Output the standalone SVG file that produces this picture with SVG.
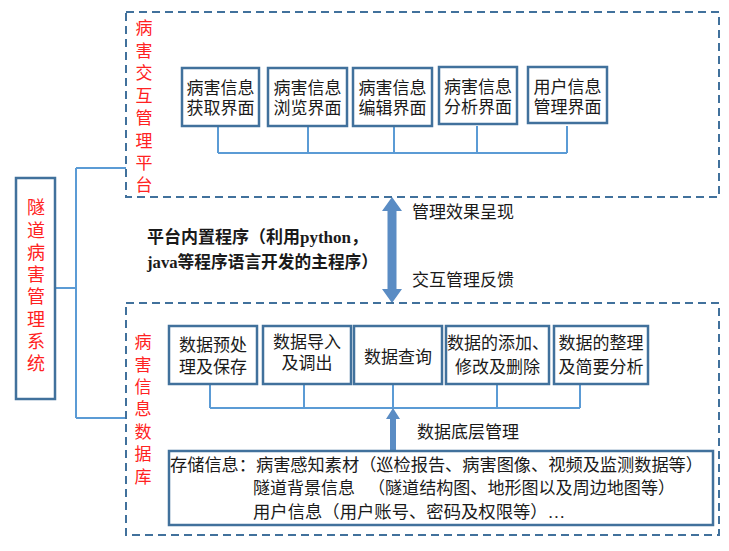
<svg xmlns="http://www.w3.org/2000/svg" width="729" height="551" viewBox="0 0 729 551">
<style>
.dash{fill:none;stroke:#41719c;stroke-width:2;stroke-dasharray:8 5}
.box{fill:#fff;stroke:#41719c;stroke-width:2.5}
.con{fill:none;stroke:#5b9bd5;stroke-width:2}
.arr{fill:#5a8cc4}
.t{font-family:"Liberation Serif","Noto Sans CJK SC",serif;font-size:17px;fill:#1a1a1a}
.c{text-anchor:middle}
.red{font-family:"Liberation Serif","Noto Sans CJK SC",serif;font-size:17px;fill:#f22;text-anchor:middle}
.b{font-weight:bold;font-size:17px}
</style>
<rect width="729" height="551" fill="#fff"/>
<g id="connectors">
<path class="con" d="M218 126V153M308 126V153M394 126V153M477 126V153M567 126V153M218 153H567"/>
<path class="con" d="M210 384V408M304 384V408M393 384V408M497 384V408M580 384V408M210 408H580"/>
<path class="con" d="M55 288H76M76 168V418M76 168H126M76 418H126"/>
<polygon class="arr" points="392,197 402,211 396.5,211 396.5,289 402,289 392,303 382,289 387.5,289 387.5,211 382,211"/>
<polygon class="arr" points="393,408 400,419 396,419 396,451 390,451 390,419 386,419"/>
</g>
<g id="platform">
<rect class="dash" x="126" y="12" width="593" height="185"/>
<text class="red"><tspan x="144" y="34">病</tspan><tspan x="144" y="57">害</tspan><tspan x="144" y="79">交</tspan><tspan x="144" y="102">互</tspan><tspan x="144" y="124">管</tspan><tspan x="144" y="147">理</tspan><tspan x="144" y="169">平</tspan><tspan x="144" y="191">台</tspan></text>
</g>
<g id="database">
<rect class="dash" x="126" y="303" width="593" height="232"/>
<text class="red"><tspan x="143" y="348">病</tspan><tspan x="143" y="371">害</tspan><tspan x="143" y="393">信</tspan><tspan x="143" y="415">息</tspan><tspan x="143" y="438">数</tspan><tspan x="143" y="460">据</tspan><tspan x="143" y="483">库</tspan></text>
</g>
<g id="system">
<rect class="box" x="16" y="178" width="39" height="221"/>
<text class="red" style="font-size:18px"><tspan x="36" y="214">隧</tspan><tspan x="36" y="237">道</tspan><tspan x="36" y="259">病</tspan><tspan x="36" y="281">害</tspan><tspan x="36" y="303">管</tspan><tspan x="36" y="326">理</tspan><tspan x="36" y="348">系</tspan><tspan x="36" y="370">统</tspan></text>
</g>
<g id="ui1"><rect class="box" x="182" y="68" width="77" height="58"/><text class="t c"><tspan x="220.5" y="94">病害信息</tspan><tspan x="220.5" y="114">获取界面</tspan></text></g>
<g id="ui2"><rect class="box" x="268" y="68" width="79" height="58"/><text class="t c"><tspan x="307.5" y="94">病害信息</tspan><tspan x="307.5" y="114">浏览界面</tspan></text></g>
<g id="ui3"><rect class="box" x="353" y="68" width="79" height="58"/><text class="t c"><tspan x="392.5" y="94">病害信息</tspan><tspan x="392.5" y="114">编辑界面</tspan></text></g>
<g id="ui4"><rect class="box" x="439" y="67" width="78" height="57"/><text class="t c"><tspan x="478" y="93">病害信息</tspan><tspan x="478" y="113">分析界面</tspan></text></g>
<g id="ui5"><rect class="box" x="528" y="67" width="79" height="56"/><text class="t c"><tspan x="567.5" y="93">用户信息</tspan><tspan x="567.5" y="113">管理界面</tspan></text></g>
<g id="label-top"><text class="t" x="412" y="218">管理效果呈现</text></g>
<g id="label-feedback"><text class="t" x="412" y="286">交互管理反馈</text></g>
<g id="program">
<text class="t b" x="147" y="243" textLength="221" lengthAdjust="spacingAndGlyphs">平台内置程序（利用python，</text>
<text class="t b" x="147" y="268" textLength="231" lengthAdjust="spacingAndGlyphs">java等程序语言开发的主程序）</text>
</g>
<g id="db1"><rect class="box" x="169" y="326" width="88" height="58"/><text class="t c"><tspan x="213" y="351">数据预处</tspan><tspan x="213" y="373">理及保存</tspan></text></g>
<g id="db2"><rect class="box" x="263" y="326" width="88" height="58"/><text class="t c"><tspan x="307" y="348">数据导入</tspan><tspan x="307" y="369">及调出</tspan></text></g>
<g id="db3"><rect class="box" x="354" y="326" width="88" height="58"/><text class="t c" x="398" y="363">数据查询</text></g>
<g id="db4"><rect class="box" x="446" y="326" width="103" height="58"/><text class="t c"><tspan x="498" y="349">数据的添加、</tspan><tspan x="497.5" y="373">修改及删除</tspan></text></g>
<g id="db5"><rect class="box" x="554" y="326" width="94" height="58"/><text class="t c"><tspan x="601" y="349">数据的整理</tspan><tspan x="601" y="373">及简要分析</tspan></text></g>
<g id="label-bottom"><text class="t" x="417" y="438">数据底层管理</text></g>
<g id="storage">
<rect class="box" x="169" y="451" width="544" height="74"/>
<text class="t" x="170" y="471" textLength="533" lengthAdjust="spacingAndGlyphs">存储信息：病害感知素材（巡检报告、病害图像、视频及监测数据等）</text>
<text class="t" x="253" y="494">隧道背景信息</text>
<text class="t" x="368" y="494" textLength="307" lengthAdjust="spacingAndGlyphs">（隧道结构图、地形图以及周边地图等）</text>
<text class="t" x="253" y="518" textLength="312" lengthAdjust="spacingAndGlyphs">用户信息（用户账号、密码及权限等）…</text>
</g>
</svg>
